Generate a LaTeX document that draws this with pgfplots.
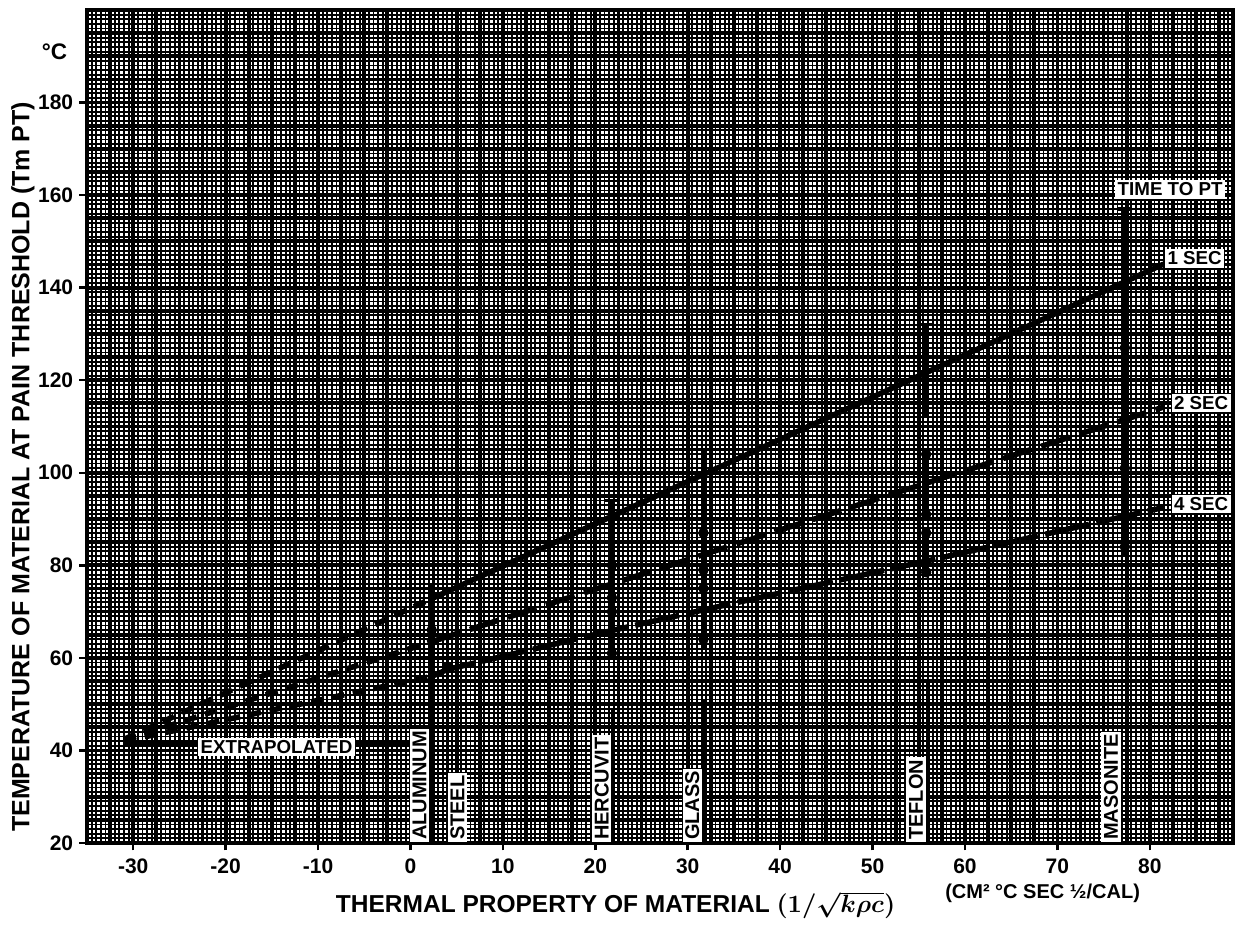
\documentclass[border=0pt]{standalone}
\usepackage{fontspec}
\setmainfont{Liberation Sans}
\usepackage{pgfplots}
\pgfplotsset{compat=1.18}
\begin{document}
\begin{tikzpicture}
\useasboundingbox (-34.8pt,-36.8pt) rectangle (461.2pt,337.2pt);
\begin{axis}[
  at={(0pt,0pt)}, anchor=south west,
  scale only axis, width=458.4pt, height=333.2pt,
  xmin=-35, xmax=89, ymin=20, ymax=200,
  xtick={-30,-20,...,80}, ytick={20,40,...,180},
  minor xtick={-35,-34.5,...,89}, minor ytick={20,21,...,200},
  extra x ticks={-35,-32.5,...,87.5}, extra y ticks={25,30,...,195},
  extra x tick labels={}, extra y tick labels={},
  extra tick style={grid=major, major tick length=0pt, major grid style={black, line width=1.5pt}},
  grid=both,
  minor grid style={black, line width=0.75pt},
  major grid style={black, line width=1.5pt},
  minor tick length=0pt, major tick length=3pt, tick align=outside,
  xtick pos=left, ytick pos=left,
  tick style={black, line width=1pt},
  axis line style={black, line width=1.4pt},
  ticklabel style={font=\bfseries\fontsize{8.4}{9}\selectfont},
  yticklabel style={xshift=1pt},
  /pgf/number format/assume math mode=true,
  clip=false,
]
% extrapolated parts
\addplot[black, line width=2.2pt, dash pattern=on 5pt off 3.5pt] coordinates {(-31,42.4) (2.3,72.8)};
\addplot[black, line width=2.2pt, dash pattern=on 5pt off 3.5pt] coordinates {(-31,42.2) (2.3,63.5)};
\addplot[black, line width=2.2pt, dash pattern=on 5pt off 3.5pt] coordinates {(-31,42) (2.3,56)};
\addplot[black, line width=2.2pt] coordinates {(-31,41.3) (0,41.3)};
% 1 SEC
\addplot[black, line width=2.2pt] coordinates {(2.3,72.8) (81.5,145.1)};
% 2 SEC
\addplot[black, line width=2.2pt, dash pattern=on 12pt off 4pt] coordinates {(2.3,63.5) (81.5,114.2)};
% 4 SEC
\addplot[black, line width=2.2pt, dash pattern=on 18pt off 3pt] coordinates {(2.3,56) (4,57.5) (22,66) (32,70.5) (56,81) (81.5,92.5)};
% reference line at 0
\addplot[black, line width=1.1pt] coordinates {(0,20) (0,170)};
% material bars
\addplot[black, line width=1.5pt] coordinates {(2.3,20) (2.3,76)};
\addplot[black, line width=1.5pt] coordinates {(4,20) (4,75)};
\addplot[black, line width=1.5pt] coordinates {(21.8,60) (21.8,94)};
\addplot[black, line width=1.5pt] coordinates {(21.9,20) (21.9,49)};
\addplot[black, line width=1.5pt] coordinates {(31.7,62) (31.7,105)};
\addplot[black, line width=1.5pt] coordinates {(31.9,20) (31.9,51)};
\addplot[black, line width=1.5pt] coordinates {(55.8,112) (55.8,132)};
\addplot[black, line width=1.5pt] coordinates {(55.8,91) (55.8,104)};
\addplot[black, line width=1.5pt] coordinates {(55.8,78.5) (55.8,87)};
\addplot[black, line width=1.5pt] coordinates {(56,20) (56,55)};
\addplot[black, line width=1.5pt] coordinates {(77.3,82) (77.3,157)};
\addplot[black, line width=1.5pt] coordinates {(77.5,20) (77.5,56)};
% crossbars and points
\addplot[black, only marks, mark=-, mark size=3pt, mark options={line width=1.4pt}] coordinates {(21.8,94) (31.7,105) (55.8,132) (77.3,157)};
\addplot[black, only marks, mark=*, mark size=1.9pt] coordinates {
(2.3,66) (4,58) (21.8,80) (21.8,73) (21.8,70) (21.8,61) (31.7,87) (31.7,79) (31.7,75) (31.7,64)
(55.8,104) (55.8,91) (55.8,87) (55.8,78.5) (77.3,127) (77.3,101) (77.3,84) (-30.5,42)};
% material labels
\tikzset{mlab/.style={rotate=90, anchor=west, fill=white, inner sep=1pt, text=black, font=\bfseries\fontsize{8}{8}\selectfont}}
\node[mlab] at (axis cs:1.0,20) {ALUMINUM};
\node[mlab] at (axis cs:5.1,20) {STEEL};
\node[mlab] at (axis cs:20.7,20) {HERCUVIT};
\node[mlab] at (axis cs:30.5,20) {GLASS};
\node[mlab] at (axis cs:54.7,20) {TEFLON};
\node[mlab] at (axis cs:75.8,20) {MASONITE};
\tikzset{rlab/.style={fill=white, inner sep=1pt, text=black, font=\bfseries\fontsize{7.5}{8}\selectfont}}
\node[rlab] at (axis cs:-14.5,40.8) {EXTRAPOLATED};
\node[rlab] at (axis cs:82.2,161.2) {TIME TO PT};
\node[rlab, anchor=west] at (axis cs:81.6,146.3) {1 SEC};
\node[rlab, anchor=west] at (axis cs:82.3,115) {2 SEC};
\node[rlab, anchor=west] at (axis cs:82.3,93.3) {4 SEC};
% axis titles
\node[font=\bfseries\fontsize{9}{10}\selectfont] at (axis cs:-35,191) [xshift=-13pt] {°C};
\node[rotate=90, font=\bfseries\fontsize{10}{11}\selectfont] at (axis cs:-35,101.3) [yshift=25.6pt] {TEMPERATURE OF MATERIAL AT PAIN THRESHOLD (Tm PT)};
\node[font=\bfseries\fontsize{9.8}{11}\selectfont] at (axis cs:22.2,20) [yshift=-24.8pt] {THERMAL PROPERTY OF MATERIAL {\boldmath$(1/\sqrt{k\rho c})$}};
\node[font=\bfseries\fontsize{8}{9}\selectfont] at (axis cs:68.4,20) [yshift=-20pt] {(CM² °C SEC ½/CAL)};
\end{axis}
\end{tikzpicture}
\end{document}
